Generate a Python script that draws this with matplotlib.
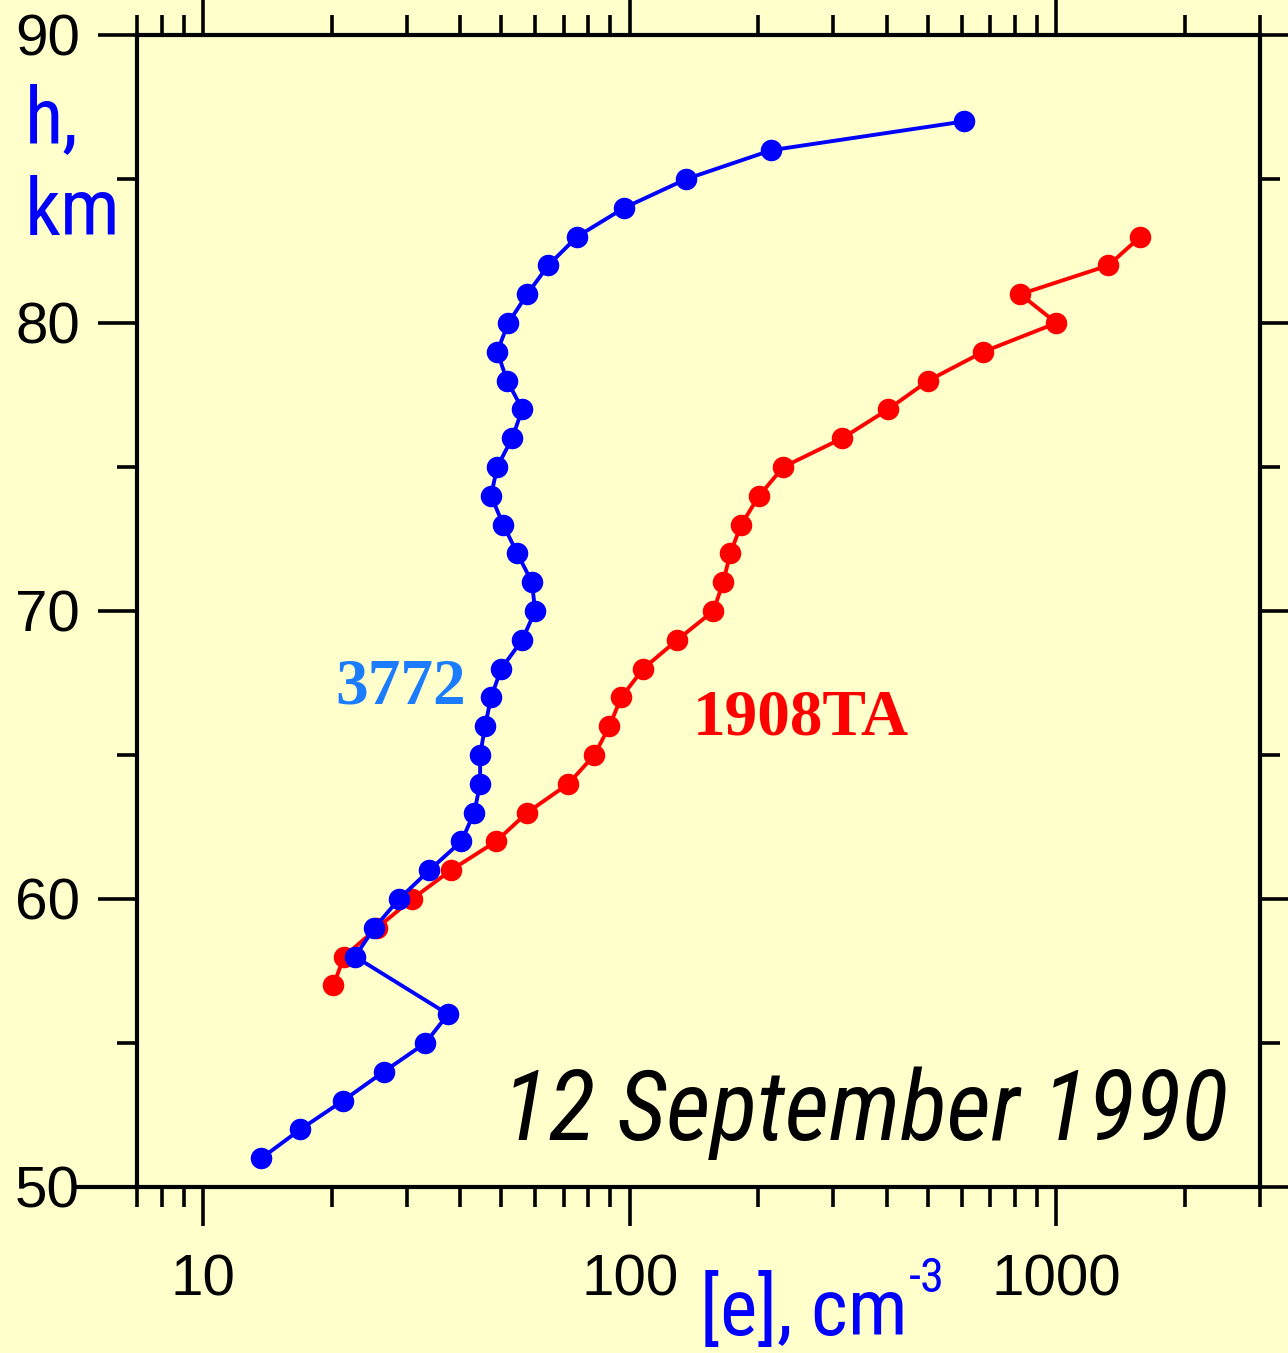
import matplotlib
matplotlib.use("Agg")
import matplotlib.pyplot as plt
from matplotlib import font_manager
from matplotlib.lines import Line2D
from matplotlib.ticker import LogLocator, FixedLocator, NullFormatter

# electron density profiles, 12 September 1990
h_3772 = [51, 52, 53, 54, 55, 56, 58, 59, 60, 61, 62, 63, 64, 65, 66, 67, 68, 69,
          70, 71, 72, 73, 74, 75, 76, 77, 78, 79, 80, 81, 82, 83, 84, 85, 86, 87]
ne_3772 = [13.7, 16.9, 21.3, 26.5, 33.2, 37.5, 22.7, 25.2, 28.8, 33.9, 40.3, 43.2,
           44.6, 44.6, 45.8, 47.3, 50.0, 56.0, 60.0, 59.0, 54.5, 50.5, 47.3, 48.9,
           53.0, 56.0, 51.6, 48.9, 51.9, 57.5, 64.4, 75.3, 97.1, 135.7, 214.7, 608]

h_1908 = [57, 58, 59, 60, 61, 62, 63, 64, 65, 66, 67, 68, 69, 70, 71, 72, 73, 74,
          75, 76, 77, 78, 79, 80, 81, 82, 83]
ne_1908 = [20.2, 21.4, 25.6, 30.9, 38.1, 48.6, 57.5, 71.8, 82.6, 89.6, 95.5, 107.6,
           129.3, 157, 165.6, 172, 182.5, 201, 229, 315, 403, 501, 674, 1000, 823,
           1324, 1574]

x_ticks = [10, 100, 1000]
x_tick_labels = ["10", "100", "1000"]
y_ticks = [50, 60, 70, 80, 90]
y_minor = [55, 65, 75, 85]

BG = "#FFFFCC"
W, H = 1288, 1353

# pick a narrow face for the labels if one is around
installed = {f.name for f in font_manager.fontManager.ttflist}
if "Liberation Sans Narrow" in installed:
    narrow, narrow_scale = "Liberation Sans Narrow", 1.0
elif "Roboto Condensed" in installed:
    narrow, narrow_scale = "Roboto Condensed", 0.97
else:
    narrow, narrow_scale = "DejaVu Sans", 0.8
if "Roboto Condensed" in installed:
    date_font, date_size = "Roboto Condensed", 70
else:
    date_font, date_size = "DejaVu Sans", 56

fig = plt.figure(figsize=(W / 100, H / 100), dpi=100, facecolor=BG)
ax = fig.add_axes([137 / W, (H - 1187) / H, (1260 - 137) / W, (1187 - 35) / H])
ax.set_facecolor(BG)

ax.plot(ne_1908, h_1908, color="red", lw=2.8, marker="o", ms=14.5, zorder=3)
ax.plot(ne_3772, h_3772, color="blue", lw=2.8, marker="o", ms=14.5, zorder=4)

ax.set_xscale("log")
ax.set_xlim(7, 3000)
ax.set_ylim(50, 90)

ax.xaxis.set_major_locator(FixedLocator(x_ticks))
ax.set_xticklabels(x_tick_labels)
ax.xaxis.set_minor_locator(LogLocator(base=10, subs=range(2, 10)))
ax.xaxis.set_minor_formatter(NullFormatter())
ax.set_yticks(y_ticks)
ax.yaxis.set_minor_locator(FixedLocator(y_minor))

for s in ax.spines.values():
    s.set_linewidth(3)
ax.tick_params(which="both", direction="out", top=True, right=True, width=2.6,
               color="black")
ax.tick_params(which="major", length=28)
ax.tick_params(which="minor", length=14.4)
ax.tick_params(axis="x", which="major", pad=20)
ax.tick_params(axis="y", which="major", pad=13)
for lab in ax.get_xticklabels() + ax.get_yticklabels():
    lab.set_fontfamily(["Liberation Sans", "DejaVu Sans"])
    lab.set_fontsize(42)

# bottom line runs on past the left spine
fig.add_artist(Line2D([73 / W, 137 / W], [(H - 1187) / H] * 2, color="black",
                      lw=3, solid_capstyle="butt"))

ax.text(29, 66.8, "3772", color="#1C7CFF", fontsize=47, fontweight="bold",
        family=["Liberation Serif", "DejaVu Serif"], ha="center", va="baseline")
ax.text(252, 65.7, "1908TA", color="red", fontsize=47, fontweight="bold",
        family=["Liberation Serif", "DejaVu Serif"], ha="center", va="baseline")
ax.text(2530, 51.63, "12 September 1990", color="black", fontsize=date_size,
        style="italic", family=[date_font, "DejaVu Sans"], fontstretch="condensed",
        ha="right", va="baseline")

lab_size = 59 * narrow_scale
fig.text(25 / W, 1 - 143 / H, "h,", color="blue", fontsize=lab_size,
         family=[narrow, "DejaVu Sans"], va="baseline")
fig.text(25 / W, 1 - 235 / H, "km", color="blue", fontsize=lab_size,
         family=[narrow, "DejaVu Sans"], va="baseline")
xl = fig.text(700 / W, 1 - 1335 / H, "[e], cm", color="blue", fontsize=lab_size,
              family=[narrow, "DejaVu Sans"], va="baseline")
ax.annotate("-3", xy=(1.0, 0.77), xycoords=xl, xytext=(1, 0),
            textcoords="offset points", color="blue", fontsize=36 * narrow_scale,
            family=[narrow, "DejaVu Sans"], ha="left", va="baseline",
            annotation_clip=False)

fig.savefig("out.png", dpi=100, facecolor=BG)
